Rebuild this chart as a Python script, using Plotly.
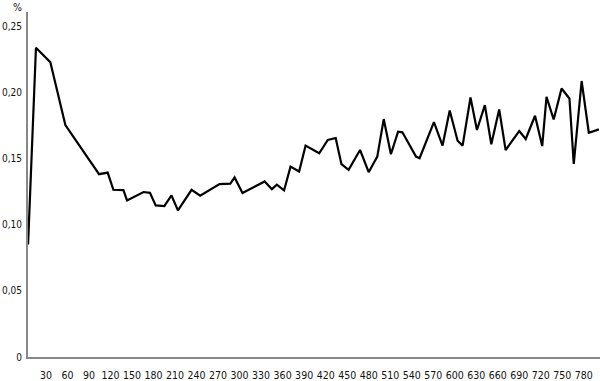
import plotly.graph_objects as go

x_vals = [5, 16, 36, 57, 104, 116, 124, 138, 143, 166, 175, 183, 195, 205, 214,
          233, 245, 272, 287, 293, 304, 335, 345, 352, 362, 371, 383, 392, 411,
          423, 434, 442, 452, 468, 480, 492, 501, 511, 521, 527, 546, 551, 571,
          583, 593, 604, 611, 622, 631, 642, 651, 662, 671, 690, 699, 712, 722,
          728, 738, 749, 760, 766, 777, 787, 801]
y_vals = [0.0851, 0.2340, 0.2231, 0.1755, 0.1383, 0.1395, 0.1265, 0.1263, 0.1185,
          0.1248, 0.1242, 0.1147, 0.1142, 0.1222, 0.1109, 0.1265, 0.1220, 0.1308,
          0.1312, 0.1358, 0.1240, 0.1328, 0.1270, 0.1303, 0.1260, 0.1440, 0.1403,
          0.1599, 0.1541, 0.1642, 0.1657, 0.1459, 0.1416, 0.1566, 0.1398, 0.1516,
          0.1800, 0.1534, 0.1704, 0.1700, 0.1516, 0.1504, 0.1777, 0.1599, 0.1865,
          0.1636, 0.1599, 0.1963, 0.1717, 0.1905, 0.1609, 0.1873, 0.1566, 0.1709,
          0.1649, 0.1825, 0.1596, 0.1968, 0.1797, 0.2031, 0.1956, 0.1461, 0.2088,
          0.1697, 0.1722]

x_ticks = list(range(30, 781, 30))
x_tick_text = [str(v) for v in x_ticks]
y_ticks = [0, 0.05, 0.10, 0.15, 0.20, 0.25]
y_tick_text = ["0", "0,05", "0,10", "0,15", "0,20", "0,25"]

FONT = "DejaVu Sans Condensed, Liberation Sans Narrow, Roboto, sans-serif"

fig = go.Figure(go.Scatter(x=x_vals, y=y_vals, mode="lines",
                           line=dict(color="black", width=2.2),
                           hoverinfo="skip"))

fig.update_layout(
    width=600, height=381,
    margin=dict(l=28, r=0, t=12, b=24),
    paper_bgcolor="white", plot_bgcolor="white",
    showlegend=False,
    font=dict(family=FONT, size=10.5, color="#111"),
    xaxis=dict(range=[4.9, 802.6], tickvals=x_ticks, ticktext=x_tick_text,
               showgrid=False, zeroline=False, showline=True,
               linecolor="#888", linewidth=2, ticks="", tickangle=0,
               automargin=False, ticklabelstandoff=7),
    yaxis=dict(range=[0, 0.261], tickvals=y_ticks, ticktext=y_tick_text,
               showgrid=False, zeroline=False, showline=True,
               linecolor="#888", linewidth=2, ticks="", automargin=False,
               tickfont=dict(size=10), ticklabelstandoff=2),
    annotations=[dict(text="%", x=-11/572, y=1 + 5/345, xref="paper", yref="paper",
                      xanchor="center", yanchor="middle", showarrow=False,
                      font=dict(family=FONT, size=10.5, color="#111"))],
)

fig.write_html("out.html")
